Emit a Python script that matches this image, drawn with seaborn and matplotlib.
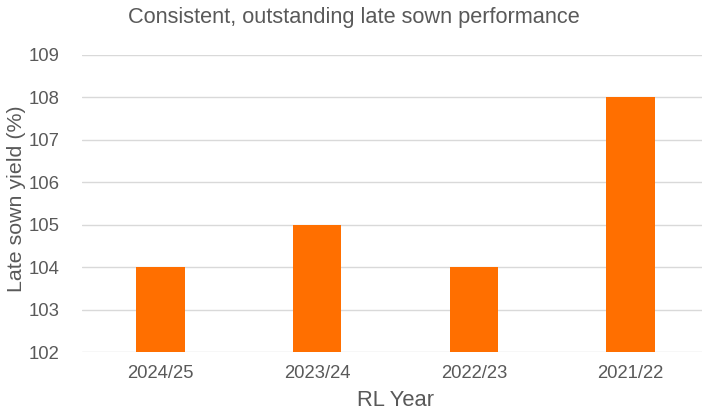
import matplotlib
matplotlib.use("Agg")
import matplotlib.pyplot as plt
import seaborn as sns
import pandas as pd

years = ["2024/25", "2023/24", "2022/23", "2021/22"]
yield_pct = [104, 105, 104, 108]
y_ticks = [102, 103, 104, 105, 106, 107, 108, 109]

sns.set_theme(style="white")
plt.rcParams["font.family"] = ["Liberation Sans", "DejaVu Sans"]

text_grey = "#595959"
bar_orange = "#FF6F00"

df = pd.DataFrame({"year": years, "yield": yield_pct})

fig = plt.figure(figsize=(7.02, 4.15), dpi=100)
# plot area runs past the right edge of the canvas, as in the exported slide
ax = fig.add_axes([82 / 702, 1 - 352 / 415, 627 / 702, 297 / 415])

sns.barplot(data=df, x="year", y="yield", color=bar_orange, width=0.31,
            saturation=1, linewidth=0, ax=ax, zorder=3)

ax.set_ylim(102, 109)
ax.set_xlim(-0.5, 3.5)
ax.set_yticks(y_ticks)
ax.yaxis.grid(True, color="#D9D9D9", linewidth=1.0, zorder=0)
ax.xaxis.grid(False)
for s in ax.spines.values():
    s.set_visible(False)
ax.tick_params(axis="both", length=0, labelsize=13.3, colors=text_grey)
ax.tick_params(axis="x", pad=9)
ax.tick_params(axis="y", pad=16)

ax.set_xlabel("RL Year", fontsize=15.8, color=text_grey, labelpad=6)
ax.set_ylabel("Late sown yield (%)", fontsize=15.4, color=text_grey,
              va="center", ha="center")
ax.yaxis.set_label_coords(-0.1037, 0.515)

fig.text(354 / 702, 1 - 17 / 415, "Consistent, outstanding late sown performance",
         ha="center", va="center", fontsize=15.7, color=text_grey)

fig.savefig("out.png", dpi=100)
